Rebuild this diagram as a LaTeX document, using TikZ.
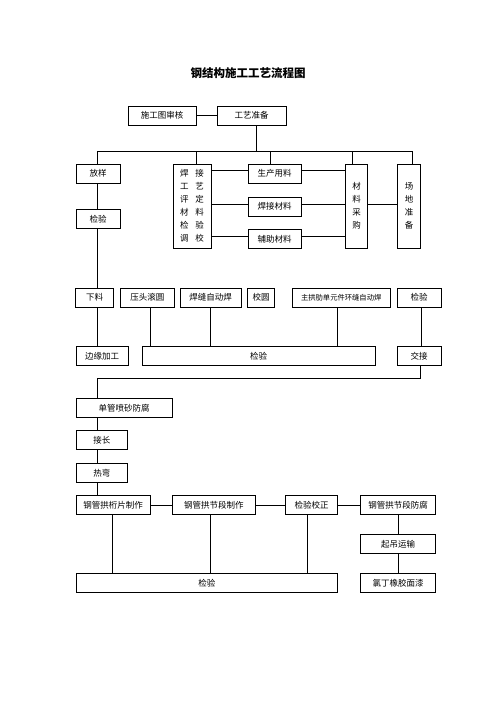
\documentclass[tikz,border=0pt]{standalone}
\usepackage{fontspec}
\newfontfamily\cjk{Noto Sans CJK SC}

\begin{document}
\begin{tikzpicture}[
  x=1pt, y=-1pt,
  line width=0.8pt,
  every node/.style={font=\cjk\fontsize{8.5pt}{10pt}\selectfont},
  box/.style={draw, inner sep=0pt, minimum height=19pt},
  tall/.style={box, minimum height=84pt, align=center, font=\cjk\fontsize{8.5pt}{13pt}\selectfont}
]

\useasboundingbox (0,0) rectangle (496,702);

\node (title) at (248,73) {\fontsize{11.5pt}{12pt}\selectfont\bfseries 钢结构施工工艺流程图};

\node[box, minimum width=68pt] (sgt)  at (162,115.5)   {施工图审核};
\node[box, minimum width=69pt] (gyzb) at (251.5,115.5) {工艺准备};

% second row
\node[box, minimum width=44pt]   (fy)   at (98,173.5)  {放样};
\node[box, minimum width=44pt]   (jy1)  at (98,219)    {检验};
\node[tall, minimum width=38pt]  (hjgy) at (192,206)   {焊\hspace{7pt}接\\工\hspace{7pt}艺\\评\hspace{7pt}定\\材\hspace{7pt}料\\检\hspace{7pt}验\\调\hspace{7pt}校};
\node[box, minimum width=53pt]   (scyl) at (274.5,173.5) {生产用料};
\node[box, minimum width=53pt]   (hjcl) at (274.5,206.5) {焊接材料};
\node[box, minimum width=53pt]   (fzcl) at (274.5,239)   {辅助材料};
\node[tall, minimum width=21.6pt] (clcg) at (356.5,206) {材\\料\\采\\购};
\node[tall, minimum width=22.6pt] (cdzb) at (409,206)   {场\\地\\准\\备};

% third row
\node[box, minimum width=37.6pt] (xl)   at (94.5,297.5)  {下料};
\node[box, minimum width=54pt]   (ytgy) at (147.3,297.5) {压头滚圆};
\node[box, minimum width=60.7pt] (hfzd) at (210.7,297.5) {焊缝自动焊};
\node[box, minimum width=27pt]   (jiy)  at (261.2,297.5) {校圆};
\node[box, minimum width=97.7pt, font=\cjk\fontsize{7.3pt}{9pt}\selectfont] (zgl) at (341.2,297.5) {主拱肋单元件环缝自动焊};
\node[box, minimum width=43.7pt] (jy2)  at (419.2,297.5) {检验};

\node[box, minimum width=52.3pt]  (bygj) at (102.2,356) {边缘加工};
\node[box, minimum width=233.3pt] (jy3)  at (258.7,356) {检验};
\node[box, minimum width=43.7pt]  (jj)   at (419.2,356) {交接};

% lower part
\node[box, minimum width=96.3pt] (dgps) at (124.2,407.8) {单管喷砂防腐};
\node[box, minimum width=51.7pt] (jc)   at (101.9,440.3) {接长};
\node[box, minimum width=51.7pt] (rw)   at (101.9,473)   {热弯};
\node[box, minimum width=74.3pt] (hpzz) at (113.2,505.3) {钢管拱桁片制作};
\node[box, minimum width=83pt]   (jdzz) at (213.8,505.3) {钢管拱节段制作};
\node[box, minimum width=52.4pt] (jyjz) at (311.5,505.3) {检验校正};
\node[box, minimum width=75.4pt] (jdff) at (398,505.3)   {钢管拱节段防腐};
\node[box, minimum width=75.4pt] (dyys) at (398,544.3)   {起吊运输};
\node[box, minimum width=75.4pt] (lqmq) at (398,583.3)   {氯丁橡胶面漆};
\node[box, minimum width=261.7pt] (jy4) at (206.9,583.3) {检验};

\coordinate (lx) at (97,0);
\coordinate (b0) at (256,151);
\coordinate (b1) at (97,151);
\coordinate (b2) at (196,151);
\coordinate (b3) at (270,151);
\coordinate (b4) at (352.7,151);
\coordinate (b5) at (412,151);
\coordinate (c1) at (420,378.3);
\coordinate (c2) at (97,378.3);

\draw (sgt) -- (gyzb);
\draw (gyzb.south -| b0) -- (b0);
\draw (b1) -- (b5);
\draw (b1) -- (b1 |- fy.north);
\draw (b2) -- (b2 |- hjgy.north);
\draw (b3) -- (b3 |- scyl.north);
\draw (b4) -- (b4 |- clcg.north);
\draw (b5) -- (b5 |- cdzb.north);

\draw ([yshift=3pt]hjgy.east |- scyl) -- ([yshift=3pt]scyl.west);
\draw ([yshift=2.5pt]hjgy.east |- hjcl) -- ([yshift=2.5pt]hjcl.west);
\draw ([yshift=3pt]hjgy.east |- fzcl) -- ([yshift=3pt]fzcl.west);
\draw ([yshift=3pt]scyl.east) -- ([yshift=3pt]scyl -| clcg.west);
\draw ([yshift=2.5pt]hjcl.east) -- ([yshift=2.5pt]hjcl -| clcg.west);
\draw ([yshift=3pt]fzcl.east) -- ([yshift=3pt]fzcl -| clcg.west);
\draw ([yshift=2pt]clcg.east) -- ([yshift=2pt]cdzb.west);

\draw (fy.south -| lx) -- (jy1.north -| lx);
\draw (jy1.south -| lx) -- (xl.north -| lx);
\draw (xl.south -| lx) -- (bygj.north -| lx);

\draw ([xshift=3.4pt]ytgy.south) -- ([xshift=3.4pt]ytgy.south |- jy3.north);
\draw (hfzd) -- (hfzd |- jy3.north);
\draw ([xshift=-4pt]zgl.south) -- ([xshift=-4pt]zgl.south |- jy3.north);
\draw ([xshift=2.5pt]jy2.south) -- ([xshift=2.5pt]jj.north);

\draw (jj.south -| c1) -- (c1) -- (c2) -- (c2 |- dgps.north);

\draw (dgps.south -| lx) -- (jc.north -| lx);
\draw (jc.south -| lx) -- (rw.north -| lx);
\draw (rw.south -| lx) -- (hpzz.north -| lx);

\draw (hpzz) -- (jdzz);
\draw (jdzz) -- (jyjz);
\draw (jyjz) -- (jdff);
\draw (jdff) -- (dyys);
\draw (dyys) -- (lqmq);

\draw ([xshift=-1pt]hpzz.south) -- ([xshift=-1pt]hpzz.south |- jy4.north);
\draw ([xshift=-3pt]jdzz.south) -- ([xshift=-3pt]jdzz.south |- jy4.north);
\draw ([xshift=-4pt]jyjz.south) -- ([xshift=-4pt]jyjz.south |- jy4.north);

\end{tikzpicture}
\end{document}
